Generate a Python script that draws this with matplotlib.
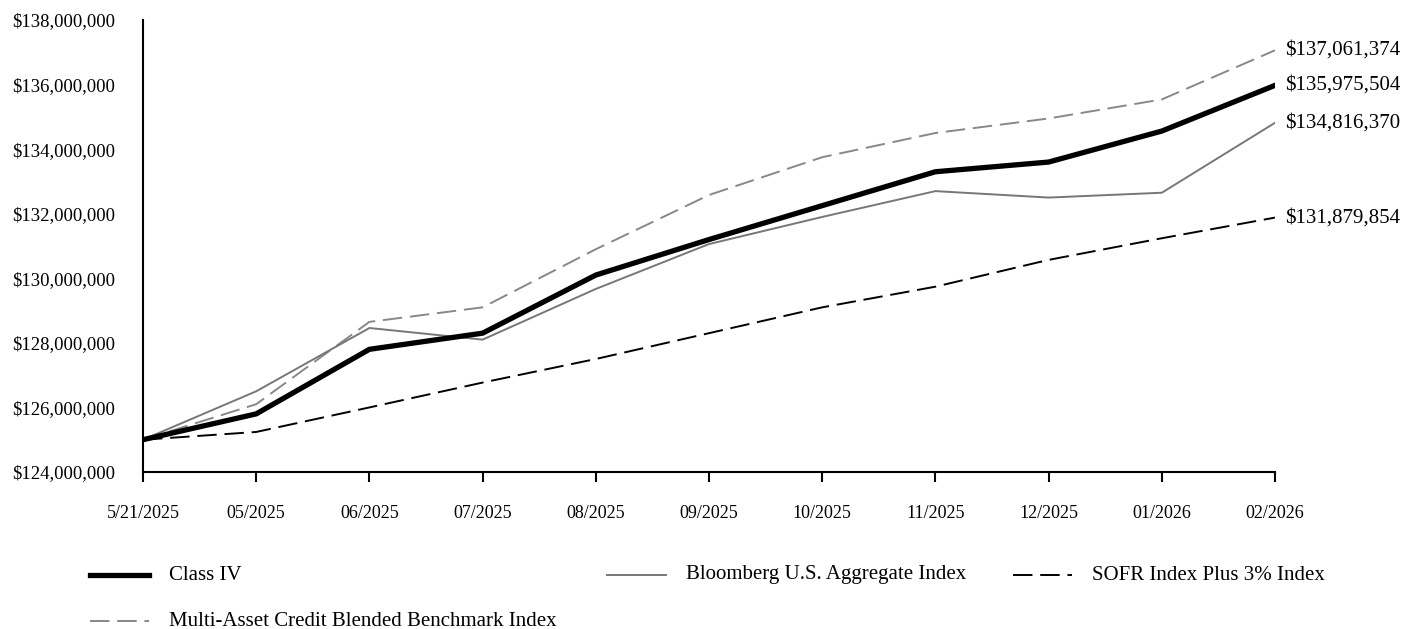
import matplotlib
matplotlib.use('Agg')
import matplotlib.pyplot as plt
from matplotlib.lines import Line2D
from matplotlib.ticker import FuncFormatter

# chart values (USD)
dates = ['5/21/2025', '05/2025', '06/2025', '07/2025', '08/2025', '09/2025',
         '10/2025', '11/2025', '12/2025', '01/2026', '02/2026']
class_iv = [125000000, 125800000, 127800000, 128300000, 130100000, 131200000,
            132250000, 133300000, 133600000, 134560000, 135975504]
bloomberg = [125000000, 126500000, 128460000, 128100000, 129670000, 131060000,
             131900000, 132700000, 132500000, 132650000, 134816370]
sofr = [125000000, 125240000, 126000000, 126770000, 127500000, 128300000,
        129100000, 129740000, 130570000, 131240000, 131879854]
multi_asset = [125000000, 126100000, 128650000, 129100000, 130900000, 132580000,
               133750000, 134500000, 134950000, 135540000, 137061374]
end_labels = ['$135,975,504', '$134,816,370', '$131,879,854', '$137,061,374']

plt.rcParams['font.family'] = ['Liberation Serif', 'DejaVu Serif']

W, H = 1406, 629
fig = plt.figure(figsize=(W / 100, H / 100), dpi=100)
ax = fig.add_axes([143 / W, 1 - 472 / H, (1275 - 143) / W, (472 - 20) / H])

DASH = (10, 4)
x = list(range(len(dates)))
l1, = ax.plot(x, class_iv, color='black', linewidth=3.8, label='Class IV', zorder=5)
l2, = ax.plot(x, bloomberg, color='#777777', linewidth=1.4,
              label='Bloomberg U.S. Aggregate Index', zorder=3)
l3, = ax.plot(x, sofr, color='black', linewidth=1.4, dashes=DASH,
              label='SOFR Index Plus 3% Index', zorder=4)
l4, = ax.plot(x, multi_asset, color='#888888', linewidth=1.4, dashes=DASH,
              label='Multi-Asset Credit Blended Benchmark Index', zorder=2)

# value labels at the end of each line
for series, lab in zip([class_iv, bloomberg, sofr, multi_asset], end_labels):
    ax.annotate(lab, xy=(x[-1], series[-1]), xytext=(7, 0), textcoords='offset points',
                va='center', ha='left', fontsize=15, annotation_clip=False)

ax.set_xlim(0, len(dates) - 1)
ax.set_ylim(124000000, 138000000)
ax.set_yticks(range(124000000, 138000001, 2000000))
ax.yaxis.set_major_formatter(FuncFormatter(lambda v, p: '${:,.0f}'.format(v)))
ax.set_xticks(x)
ax.set_xticklabels(dates)

for s in ['top', 'right']:
    ax.spines[s].set_visible(False)
for s in ['left', 'bottom']:
    ax.spines[s].set_linewidth(1.5)
ax.tick_params(axis='y', length=0, pad=20, labelsize=13.5)
ax.tick_params(axis='x', length=7, width=1.5, pad=17, labelsize=13)

# legend drawn by hand: (line, dashed?, handle left px, row centre px)
legend_spots = [(l1, False, 90, 575), (l2, False, 607, 575),
                (l3, True, 1013, 575), (l4, True, 90, 621)]
for line, dashed, px, py in legend_spots:
    yy = 1 - py / H
    h = Line2D([px / W, (px + 59) / W], [yy, yy], transform=fig.transFigure,
               color=line.get_color(), linewidth=line.get_linewidth())
    if dashed:
        h.set_dashes(DASH)
    fig.add_artist(h)
    fig.text((px + 79) / W, yy, line.get_label(), fontsize=15, va='center', ha='left')

fig.savefig('out.png', dpi=100)
